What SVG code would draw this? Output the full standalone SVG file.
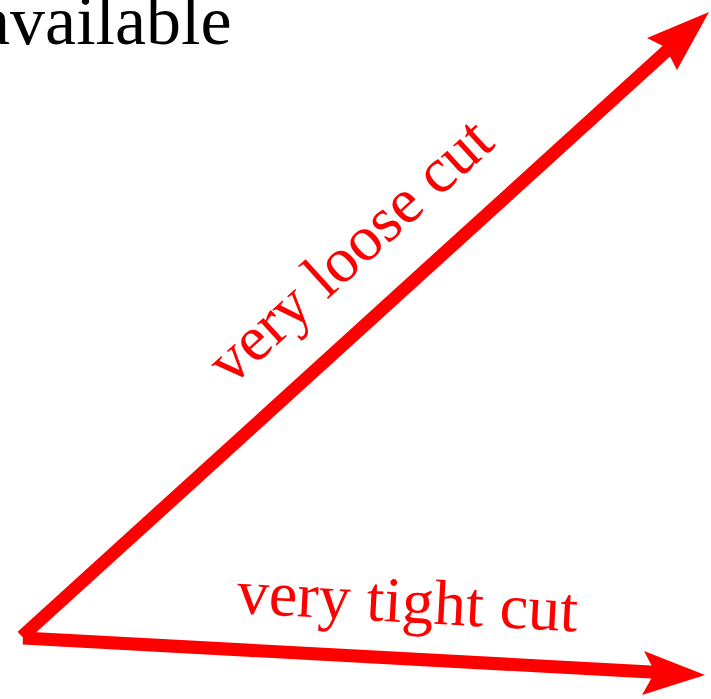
<svg xmlns="http://www.w3.org/2000/svg" width="711" height="699" viewBox="0 0 711 699">
<style>
.lbl{font-family:"Liberation Serif","Times New Roman",serif;fill:#ff0000;font-size:64px}
.ttl{font-family:"Liberation Serif","Times New Roman",serif;fill:#000;font-size:70px}
.ln{stroke:#ff0000;stroke-width:13;fill:none}
.hd{fill:#ff0000}
</style>
<rect width="711" height="699" fill="#fff"/>
<g id="title"><text class="ttl" x="-21" y="44">available</text></g>
<g id="connectors">
<line class="ln" x1="22" y1="636.5" x2="672" y2="46"/>
<polygon class="hd" points="709,12 647,38 665,47 677,70"/>
<line class="ln" x1="23" y1="638" x2="660" y2="672.5"/>
<polygon class="hd" points="705,675 644,651 655,672 642,695"/>
</g>
<g id="label-loose"><text class="lbl" transform="translate(231,387) rotate(-42.27)">very loose cut</text></g>
<g id="label-tight"><text class="lbl" transform="translate(236,613) rotate(3.1)">very tight cut</text></g>
</svg>
